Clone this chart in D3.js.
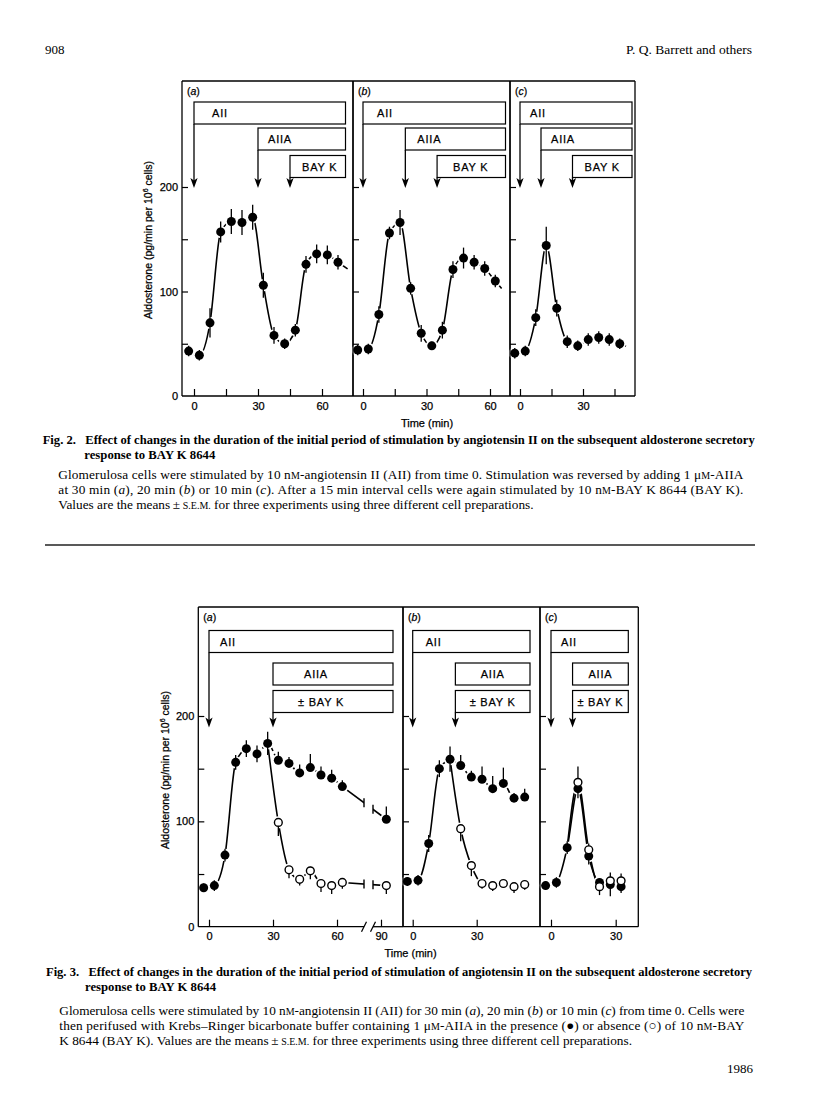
<!DOCTYPE html>
<html><head><meta charset="utf-8">
<script src="https://cdn.jsdelivr.net/npm/d3@7"></script>
<style>
body{margin:0;background:#fff}
svg{display:block}
</style></head><body>
<svg id="page" width="816" height="1097"></svg>
<script>
// ================= DATA =================
// Fig. 2 : aldosterone (pg/min per 10^6 cells), means and S.E.M.
const fig2TimesA  = [-2.5,2.5,7.5,12.5,17.5,22.5,27.5,32.5,37.5,42.5,47.5,52.5,57.5,62.5,67.5];
const fig2ValuesA = [43,39,70,157,167,166,171,106,58,50,63,126,136,135,128];
const fig2ErrorsA = [5,5,14,10,12,12,12,12,8,5,6,8,9,9,7];
const fig2TimesB  = [-2.5,2.5,7.5,12.5,17.5,22.5,27.5,32.5,37.5,42.5,47.5,52.5,57.5,62.5];
const fig2ValuesB = [44,45,78,156,166,103,60,48,63,121,132,128,122,110];
const fig2ErrorsB = [5,5,8,6,12,6,8,4,8,8,10,7,7,6];
const fig2TimesC  = [-2.5,2.5,7.5,12.5,17.5,22.5,27.5,32.5,37.5,42.5,47.5];
const fig2ValuesC = [41,43,75,144,84,52,48,54,56,54,50];
const fig2ErrorsC = [5,5,8,18,8,6,5,6,6,6,5];
const fig2AIIStart  = [0,0,0];
const fig2AIIAStart = [30,20,10];
const fig2BayKStart = [45,35,25];
const fig2BoxLabels = ["AII","AIIA","BAY K"];
const fig2XTicks  = [[0,15,30,45,60],[0,15,30,45,60],[0,15,30,45]];
const fig2XLabels = [[0,30,60],[0,30,60],[0,30]];
const panelNames = ["a","b","c"];

// Fig. 3 : filled = with BAY K, open = without BAY K
const fig3TimesAFilled   = [-2.5,2.5,7.5,12.5,17.5,22.5,27.5,32.5,37.5,42.5,47.5,52.5,57.5,62.5,92.5];
const fig3ValuesAFilled  = [37,39,68,156,169,164,174,158,155,146,151,144,141,133,102];
const fig3ErrUpAFilled   = [4,5,6,7,8,8,11,8,6,8,13,8,8,6,12];
const fig3ErrDownAFilled = [4,5,6,7,8,8,11,0,0,0,0,0,0,0,0];
const fig3TimesAOpen     = [32.5,37.5,42.5,47.5,52.5,57.5,62.5,92.5];
const fig3ValuesAOpen    = [99,54,45,53,41,39,42,39];
const fig3ErrUpAOpen     = [0,0,0,4,0,0,0,0];
const fig3ErrDownAOpen   = [13,8,6,8,8,8,6,8];

const fig3TimesBFilled   = [-2.5,2.5,7.5,12.5,17.5,22.5,27.5,32.5,37.5,42.5,47.5,52.5];
const fig3ValuesBFilled  = [43,44,79,150,159,153,142,140,131,136,122,123];
const fig3ErrUpBFilled   = [4,5,8,8,12,10,6,12,12,15,5,8];
const fig3ErrDownBFilled = [4,5,8,8,12,0,0,0,0,0,0,0];
const fig3TimesBOpen     = [22.5,27.5,32.5,37.5,42.5,47.5,52.5];
const fig3ValuesBOpen    = [93,58,41,39,41,38,40];
const fig3ErrUpBOpen     = [0,0,0,0,0,0,0];
const fig3ErrDownBOpen   = [12,10,5,5,3,6,5];

const fig3TimesCFilled   = [-2.5,2.5,7.5,12.5,17.5,22.5,27.5,32.5];
const fig3ValuesCFilled  = [39,42,75,131,67,42,40,38];
const fig3ErrUpCFilled   = [4,5,6,0,0,0,0,0];
const fig3ErrDownCFilled = [4,5,6,9,8,8,11,6];
const fig3TimesCOpen     = [12.5,17.5,22.5,27.5,32.5];
const fig3ValuesCOpen    = [137,73,38,43.5,43.5];
const fig3ErrUpCOpen     = [15,6,0,8,7];
const fig3ErrDownCOpen   = [0,0,8,0,0];
const fig3BranchIndex    = [6,4,2];   // index of filled point where open curve branches
const fig3AIIStart  = [0,0,0];
const fig3AIIAStart = [30,20,10];
const fig3BoxLabels = ["AII","AIIA","± BAY K"];
const fig3XTicks  = [[0,30,60,90],[0,30],[0,30]];
const fig3XLabels = [[0,30,60,90],[0,30],[0,30]];

const yTickValues  = [50,100,150,200];
const yLabelValues = [0,100,200];

// ================= DRAWING =================
const SANS = '"Liberation Sans", Arial, Helvetica, sans-serif';
const SERIF = '"Liberation Serif", "Times New Roman", Times, serif';
const svg = d3.select('#page');
svg.append('rect').attr('width',816).attr('height',1097).attr('fill','#fff');

function sansText(sel){
  return sel.attr('font-family',SANS).attr('fill','#000').attr('stroke','#000').attr('stroke-width',0.25);
}

function drawPanel(p){
  const g = svg.append('g');
  const x = d3.scaleLinear().domain(p.xDomain).range(p.xRange);
  const y = p.y;
  const lineGen = d3.line().x(d=>x(d.t)).y(d=>y(d.v)).curve(d3.curveMonotoneX);
  const straight = d3.line().x(d=>x(d.t)).y(d=>y(d.v));
  const lg = g.append('g').attr('fill','none').attr('stroke','#000').attr('stroke-width',1.6);
  const breakTicks = [];
  p.series.forEach(s=>{
    let pts = s.times.map((t,i)=>({t, v:s.values[i]}));
    if (s.branch) pts = [s.branch, ...pts];
    if (s.tail){
      const a = pts[pts.length-2], b = pts[pts.length-1];
      const slope = (b.v-a.v)/(b.t-a.t);
      pts = [...pts, {t:b.t+s.tail, v:b.v+slope*s.tail}];
    }
    let pre = pts, post = [];
    if (p.brk){
      pre = pts.filter(d=>x(d.t) < p.brk[0]);
      post = pts.filter(d=>x(d.t) > p.brk[1]);
    }
    if (s.dashFrom!=null){
      const solid = pre.filter(d=>d.t<=s.dashFrom), dashed = pre.filter(d=>d.t>=s.dashFrom);
      lg.append('path').attr('d',lineGen(solid));
      lg.append('path').attr('d',lineGen(dashed)).attr('stroke-dasharray','7,3');
    } else {
      lg.append('path').attr('d',lineGen(pre));
    }
    if (post.length){
      const seg = [pre[pre.length-1], ...post];
      lg.append('path').attr('d',straight(seg));
      const A = seg[0], B = seg[1];
      const xa=x(A.t), ya=y(A.v), xb=x(B.t), yb=y(B.v);
      p.brk.forEach(bx=>{
        breakTicks.push([bx, ya + (yb-ya)*(bx-xa)/(xb-xa)]);
      });
    }
  });
  if (p.brk){
    g.append('rect').attr('x',p.brk[0]).attr('y',p.top+2).attr('width',p.brk[1]-p.brk[0])
      .attr('height',p.bottom-p.top-3).attr('fill','#fff');
    g.selectAll('.bt').data(breakTicks).enter().append('line')
      .attr('x1',d=>d[0]).attr('x2',d=>d[0]).attr('y1',d=>d[1]-4.5).attr('y2',d=>d[1]+4.5)
      .attr('stroke','#000').attr('stroke-width',1.4);
  }
  const allPts = [];
  p.series.forEach(s=>{
    s.times.forEach((t,i)=>allPts.push({t, v:s.values[i], up:s.errUp[i], dn:s.errDown[i], filled:s.filled}));
  });
  // halos (gaps in the curves round the symbols)
  g.append('g').selectAll('circle').data(allPts).enter().append('circle')
    .attr('cx',d=>x(d.t)).attr('cy',d=>y(d.v)).attr('r',6.2).attr('fill','#fff');
  // error bars
  g.append('g').selectAll('line').data(allPts.filter(d=>d.up>0||d.dn>0)).enter().append('line')
    .attr('x1',d=>x(d.t)).attr('x2',d=>x(d.t)).attr('y1',d=>y(d.v+d.up)).attr('y2',d=>y(d.v-d.dn))
    .attr('stroke','#000').attr('stroke-width',1.3);
  // symbols
  g.append('g').selectAll('circle').data(allPts).enter().append('circle')
    .attr('cx',d=>x(d.t)).attr('cy',d=>y(d.v)).attr('r',d=>d.filled?4.5:3.9)
    .attr('fill',d=>d.filled?'#000':'#fff').attr('stroke','#000').attr('stroke-width',d=>d.filled?0:1.4);

  // axes
  const styleAxis = sel=>{
    sel.select('.domain').remove();
    sel.selectAll('line').attr('stroke','#000').attr('stroke-width',1.2);
    sansText(sel.selectAll('text')).attr('font-size',11);
  };
  g.append('g').attr('transform',`translate(${p.left},0)`)
    .call(d3.axisRight(y).tickValues(yTickValues).tickSize(6).tickFormat('')).call(styleAxis);
  if (p.yLabels){
    g.append('g').attr('transform',`translate(${p.left},0)`)
      .call(d3.axisLeft(y).tickValues(yLabelValues).tickSize(0).tickPadding(4)).call(styleAxis);
  }
  g.append('g').attr('transform',`translate(0,${p.bottom})`)
    .call(d3.axisTop(x).tickValues(p.xTicks).tickSize(7).tickFormat('')).call(styleAxis);
  g.append('g').attr('transform',`translate(0,${p.bottom})`)
    .call(d3.axisBottom(x).tickValues(p.xLabels).tickSize(0).tickPadding(6)).call(styleAxis);

  // frame
  const fr = g.append('g').attr('stroke','#000').attr('stroke-width',1.3).attr('fill','none');
  fr.append('line').attr('x1',p.left).attr('x2',p.left).attr('y1',p.top).attr('y2',p.bottom);
  fr.append('line').attr('x1',p.right).attr('x2',p.right).attr('y1',p.top).attr('y2',p.bottom);
  fr.append('line').attr('x1',p.left).attr('x2',p.right).attr('y1',p.top).attr('y2',p.top);
  if (p.brk){
    fr.append('line').attr('x1',p.left).attr('x2',p.brk[0]).attr('y1',p.bottom).attr('y2',p.bottom);
    fr.append('line').attr('x1',p.brk[1]).attr('x2',p.right).attr('y1',p.bottom).attr('y2',p.bottom);
    p.brk.forEach(bx=>fr.append('line').attr('x1',bx-2.5).attr('x2',bx+2.5)
      .attr('y1',p.bottom+5).attr('y2',p.bottom-5));
  } else {
    fr.append('line').attr('x1',p.left).attr('x2',p.right).attr('y1',p.bottom).attr('y2',p.bottom);
  }

  // panel label
  const pl = sansText(g.append('text').attr('x',p.left+5).attr('y',p.top+14)).attr('font-size',10.5);
  pl.append('tspan').text('(');
  pl.append('tspan').attr('font-style','italic').text(p.name);
  pl.append('tspan').text(')');

  // treatment boxes and arrows
  const boxRight = p.right - p.boxInset;
  const arrowBottoms = {};
  p.boxes.forEach(b=>{
    const bx = x(b.start), by = p.top + b.off;
    g.append('rect').attr('x',bx).attr('y',by).attr('width',boxRight-bx).attr('height',b.h)
      .attr('fill','#fff').attr('stroke','#000').attr('stroke-width',1.2);
    const t = sansText(g.append('text')).attr('y',by+b.h/2+4).attr('font-size',11)
      .attr('letter-spacing',0.8).text(b.label);
    if (b.pad==null) t.attr('x',(bx+boxRight)/2).attr('text-anchor','middle');
    else t.attr('x',bx+b.pad);
    arrowBottoms[b.start] = Math.max(arrowBottoms[b.start]||0, by+b.h);
  });
  const tip = y(p.arrowTip);
  Object.keys(arrowBottoms).forEach(k=>{
    const ax = x(+k);
    g.append('line').attr('x1',ax).attr('x2',ax).attr('y1',arrowBottoms[k]).attr('y2',tip-6)
      .attr('stroke','#000').attr('stroke-width',1.3);
    g.append('path').attr('d',`M${ax},${tip} L${ax-3.6},${tip-10} L${ax},${tip-7.5} L${ax+3.6},${tip-10} Z`)
      .attr('fill','#000');
  });
  return x;
}

// ---------- header ----------
svg.append('text').attr('x',45).attr('y',54).attr('font-family',SERIF).attr('font-size',13).text('908');
svg.append('text').attr('x',752).attr('y',54).attr('text-anchor','end').attr('font-family',SERIF)
  .attr('font-size',13.5).text('P. Q. Barrett and others');

// ---------- Fig. 2 ----------
const y2 = d3.scaleLinear().domain([0,200]).range([396,187]);
const fig2Frames = [
  {left:182,right:353,xDomain:[0,60],xRange:[194,322],inset:7.5},
  {left:353,right:510,xDomain:[0,60],xRange:[363,490],inset:4.5},
  {left:510,right:635,xDomain:[0,30],xRange:[520,583],inset:3}
];
const fig2T=[fig2TimesA,fig2TimesB,fig2TimesC], fig2V=[fig2ValuesA,fig2ValuesB,fig2ValuesC],
      fig2E=[fig2ErrorsA,fig2ErrorsB,fig2ErrorsC], fig2Tail=[4.5,3,3];
const fig2Pads=[[18,10,12],[14,12,16],[10,10,12]];
fig2Frames.forEach((f,i)=>{
  drawPanel({
    left:f.left,right:f.right,top:81,bottom:396,xDomain:f.xDomain,xRange:f.xRange,y:y2,
    name:panelNames[i], yLabels:i===0, xTicks:fig2XTicks[i], xLabels:fig2XLabels[i],
    boxInset:f.inset, arrowTip:199,
    series:[{times:fig2T[i],values:fig2V[i],errUp:fig2E[i],errDown:fig2E[i],filled:true,tail:fig2Tail[i]}],
    boxes:[
      {start:fig2AIIStart[i],label:fig2BoxLabels[0],off:21,h:22,pad:fig2Pads[i][0]},
      {start:fig2AIIAStart[i],label:fig2BoxLabels[1],off:47,h:22,pad:fig2Pads[i][1]},
      {start:fig2BayKStart[i],label:fig2BoxLabels[2],off:74.5,h:22,pad:fig2Pads[i][2]}
    ]
  });
});
function yTitle(cx, cy){
  const t = sansText(svg.append('text').attr('transform',`translate(${cx},${cy}) rotate(-90)`)
    .attr('text-anchor','middle').attr('dy','0.35em')).attr('font-size',10.5);
  t.append('tspan').text('Aldosterone (pg/min per 10');
  t.append('tspan').attr('dy',-4).attr('font-size',7).text('6');
  t.append('tspan').attr('dy',4).text(' cells)');
}
yTitle(148.5,240);
sansText(svg.append('text').attr('x',427).attr('y',427).attr('text-anchor','middle'))
  .attr('font-size',11).text('Time (min)');

// ---------- captions helper ----------
function richLine(x, yb, segs, opts={}){
  const size = opts.size||13.3;
  const t = svg.append('text').attr('x',x).attr('y',yb).attr('font-family',SERIF)
    .attr('font-size',size).attr('font-weight',opts.bold?'bold':'normal').attr('fill','#000');
  segs.forEach(s=>{
    const ts = t.append('tspan').text(s[0]);
    if (s[1]==='i') ts.attr('font-style','italic');
    if (s[1]==='sc') ts.attr('font-size',size*0.75);
  });
  if (opts.len) t.attr('textLength',opts.len).attr('lengthAdjust',opts.glyphs?'spacingAndGlyphs':'spacing');
  return t;
}
richLine(42.7,444,[["Fig. 2.\u2002 Effect of changes in the duration of the initial period of stimulation by angiotensin II on the subsequent aldosterone secretory"]],{bold:true,size:12.8,len:712,glyphs:true});
richLine(84.3,459,[["response to BAY K 8644"]],{bold:true,size:12.8,len:131,glyphs:true});
richLine(58.3,479,[["Glomerulosa cells were stimulated by 10 n"],["M","sc"],["-angiotensin II (AII) from time 0. Stimulation was reversed by adding 1 \u03bc"],["M","sc"],["-AIIA"]],{len:685});
richLine(58.3,494,[["at 30 min ("],["a","i"],["), 20 min ("],["b","i"],[") or 10 min ("],["c","i"],["). After a 15 min interval cells were again stimulated by 10 n"],["M","sc"],["-BAY K 8644 (BAY K)."]],{len:685});
richLine(58.3,509,[["Values are the means\u2009\u00b1\u2009"],["S.E.M.","sc"],[" for three experiments using three different cell preparations."]]);
svg.append('line').attr('x1',45).attr('x2',755).attr('y1',545).attr('y2',545).attr('stroke','#222').attr('stroke-width',1.3);

// ---------- Fig. 3 ----------
const y3 = d3.scaleLinear().domain([0,200]).range([926.7,716]);
const fig3Frames = [
  {left:198.3,right:403,xDomain:[0,72.7,86.2,90],xRange:[209,364.1,372.9,381],brk:[364,373]},
  {left:403,right:540,xDomain:[0,30],xRange:[412.7,476.7]},
  {left:540,right:638.3,xDomain:[0,30],xRange:[551,615.7]}
];
const f3TF=[fig3TimesAFilled,fig3TimesBFilled,fig3TimesCFilled],
      f3VF=[fig3ValuesAFilled,fig3ValuesBFilled,fig3ValuesCFilled],
      f3UF=[fig3ErrUpAFilled,fig3ErrUpBFilled,fig3ErrUpCFilled],
      f3DF=[fig3ErrDownAFilled,fig3ErrDownBFilled,fig3ErrDownCFilled],
      f3TO=[fig3TimesAOpen,fig3TimesBOpen,fig3TimesCOpen],
      f3VO=[fig3ValuesAOpen,fig3ValuesBOpen,fig3ValuesCOpen],
      f3UO=[fig3ErrUpAOpen,fig3ErrUpBOpen,fig3ErrUpCOpen],
      f3DO=[fig3ErrDownAOpen,fig3ErrDownBOpen,fig3ErrDownCOpen],
      f3Dash=[17.5,17.5,null];
const fig3Pads=[[11,31,25],[13,null,null],[10,null,null]];
fig3Frames.forEach((f,i)=>{
  const bi = fig3BranchIndex[i];
  drawPanel({
    left:f.left,right:f.right,top:607,bottom:926.7,xDomain:f.xDomain,xRange:f.xRange,y:y3,brk:f.brk,
    name:panelNames[i], yLabels:i===0, xTicks:fig3XTicks[i], xLabels:fig3XLabels[i],
    boxInset:10, arrowTip:189,
    series:[
      {times:f3TF[i],values:f3VF[i],errUp:f3UF[i],errDown:f3DF[i],filled:true,dashFrom:f3Dash[i]},
      {times:f3TO[i],values:f3VO[i],errUp:f3UO[i],errDown:f3DO[i],filled:false,
       branch:{t:f3TF[i][bi],v:f3VF[i][bi]}}
    ],
    boxes:[
      {start:fig3AIIStart[i],label:fig3BoxLabels[0],off:23.5,h:22,pad:fig3Pads[i][0]},
      {start:fig3AIIAStart[i],label:fig3BoxLabels[1],off:56,h:22,pad:fig3Pads[i][1]},
      {start:fig3AIIAStart[i],label:fig3BoxLabels[2],off:83.5,h:22,pad:fig3Pads[i][2]}
    ]
  });
});
yTitle(165,770);
sansText(svg.append('text').attr('x',410.5).attr('y',957).attr('text-anchor','middle'))
  .attr('font-size',11).text('Time (min)');

richLine(46,976,[["Fig. 3.\u2002 Effect of changes in the duration of the initial period of stimulation of angiotensin II on the subsequent aldosterone secretory"]],{bold:true,size:12.8,len:706,glyphs:true});
richLine(85,991,[["response to BAY K 8644"]],{bold:true,size:12.8,len:131,glyphs:true});
richLine(59.3,1015,[["Glomerulosa cells were stimulated by 10 n"],["M","sc"],["-angiotensin II (AII) for 30 min ("],["a","i"],["), 20 min ("],["b","i"],[") or 10 min ("],["c","i"],[") from time 0. Cells were"]],{len:685});
richLine(59.3,1030,[["then perifused with Krebs\u2013Ringer bicarbonate buffer containing 1 \u03bc"],["M","sc"],["-AIIA in the presence (\u25cf) or absence (\u25cb) of 10 n"],["M","sc"],["-BAY"]],{len:685});
richLine(59.3,1045,[["K 8644 (BAY K). Values are the means\u2009\u00b1\u2009"],["S.E.M.","sc"],[" for three experiments using three different cell preparations."]]);
svg.append('text').attr('x',753).attr('y',1073).attr('text-anchor','end').attr('font-family',SERIF)
  .attr('font-size',13).text('1986');
</script>
</body></html>
